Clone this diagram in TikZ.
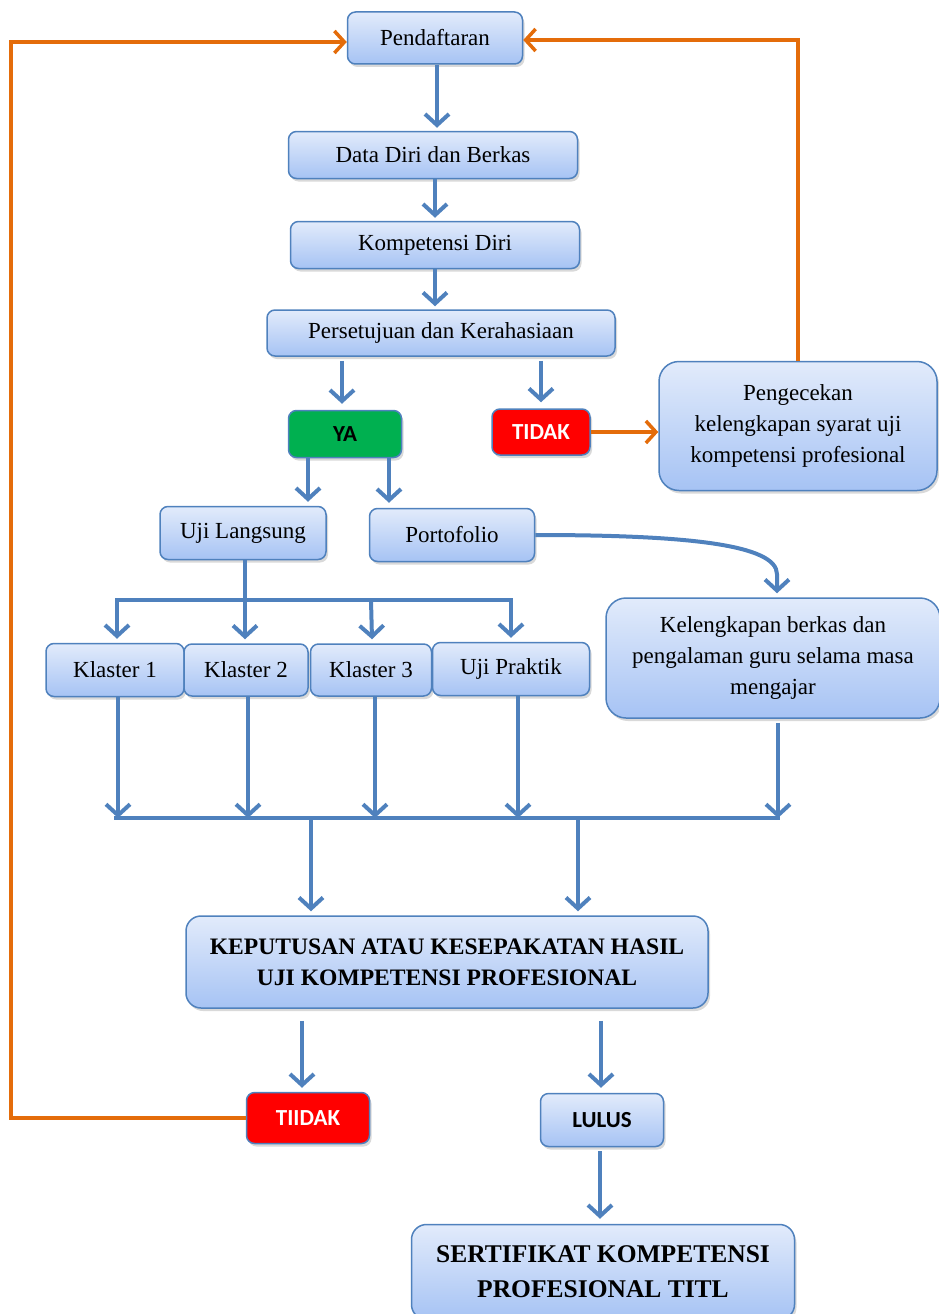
\documentclass[tikz,border=0pt]{standalone}
\usepackage{fontspec}
\setmainfont{Liberation Serif}
\newfontfamily\labfont{Carlito}
\usetikzlibrary{arrows.meta,shadows,calc}
\definecolor{bord}{HTML}{4F81BD}
\definecolor{btop}{HTML}{E2EBFB}
\definecolor{bbot}{HTML}{A6C3F4}
\definecolor{ablue}{HTML}{4F81BD}
\definecolor{aor}{HTML}{E46C0A}
\definecolor{gbox}{HTML}{00B050}
\begin{document}
\begin{tikzpicture}[x=1pt,y=-1pt,
 base/.style={draw=bord, line width=1.5pt, rounded corners=8pt, align=center, inner sep=0pt,
   drop shadow={shadow xshift=2pt, shadow yshift=-3pt, opacity=0.3}},
 box/.style={base, top color=btop, bottom color=bbot, font=\fontsize{23}{31}\selectfont},
 tag/.style={base, font=\labfont\bfseries\fontsize{23}{26}\selectfont},
 arr/.style={draw=ablue, line width=4pt, -{Straight Barb[length=11pt,width=24pt]}},
 lin/.style={draw=ablue, line width=4pt},
 oarr/.style={draw=aor, line width=3.5pt, -{Straight Barb[length=10pt,width=22pt]}},
]
\useasboundingbox (0,0) rectangle (939,1314);

% nodes
\node[box, minimum width=175pt, minimum height=52pt] (pend) at (435,38) {Pendaftaran};
\node[box, minimum width=289pt, minimum height=47pt] (data) at (433,155) {Data Diri dan Berkas};
\node[box, minimum width=289pt, minimum height=47pt] (komp) at (435,245) {Kompetensi Diri};
\node[box, minimum width=348pt, minimum height=46pt] (pers) at (441,333) {Persetujuan dan Kerahasiaan};
\node[tag, fill=gbox, text=black, minimum width=113pt, minimum height=47pt] (ya) at (345,434) {YA};
\node[tag, fill=red, text=white, minimum width=98pt, minimum height=46pt] (tidak) at (541,432) {TIDAK};
\node[box, rounded corners=20pt, minimum width=278pt, minimum height=129pt] (cek) at (798,426)
  {Pengecekan\\kelengkapan syarat uji\\kompetensi profesional};
\node[box, minimum width=166pt, minimum height=53pt] (uji) at (243,533) {Uji Langsung};
\node[box, minimum width=165pt, minimum height=53pt] (porto) at (452,535) {Portofolio};
\node[box, rounded corners=20pt, minimum width=334pt, minimum height=120pt] (kel) at (773,658)
  {Kelengkapan berkas dan\\pengalaman guru selama masa\\mengajar};
\node[box, minimum width=138pt, minimum height=53pt] (k1) at (115,670) {Klaster 1};
\node[box, minimum width=124pt, minimum height=52pt] (k2) at (246,670) {Klaster 2};
\node[box, minimum width=121pt, minimum height=52pt] (k3) at (371,670) {Klaster 3};
\node[box, minimum width=157pt, minimum height=53pt] (up) at (511,669) {Uji Praktik};
\node[box, rounded corners=15pt, minimum width=522pt, minimum height=92pt, font=\bfseries\fontsize{23.6}{31}\selectfont] (kep) at (447,962)
  {KEPUTUSAN ATAU KESEPAKATAN HASIL\\UJI KOMPETENSI PROFESIONAL};
\node[tag, fill=red, text=white, minimum width=123pt, minimum height=51pt] (tiidak) at (308,1118) {TIIDAK};
\node[tag, top color=btop, bottom color=bbot, text=black, minimum width=123pt, minimum height=53pt] (lulus) at (602,1120) {LULUS};
\node[box, rounded corners=15pt, minimum width=383pt, minimum height=95pt, font=\bfseries\fontsize{25.5}{35}\selectfont] (sert) at (603,1272)
  {SERTIFIKAT KOMPETENSI\\PROFESIONAL TITL};

% main chain
\draw[arr] ($(pend.south)+(2,0)$) -- ($(pend.south |- data.north)+(2,-3)$);
\draw[arr] ($(data.south)+(2,0)$) -- ($(data.south |- komp.north)+(2,-3)$);
\draw[arr] (komp.south) -- ($(komp.south |- pers.north)+(0,-3)$);
\draw[arr] ($(pers.south -| ya)+(-3,4)$) -- ($(ya.north)+(-3,-6)$);
\draw[arr] ($(pers.south -| tidak)+(0,4)$) -- ($(tidak.north)+(0,-6)$);
\draw[oarr] (tidak.east) -- (tidak.east -| cek.west);

% YA branches
\draw[arr] ($(ya.south)+(-37,0)$) -- ($(uji.north -| ya.south)+(-37,-4)$);
\draw[arr] ($(ya.south)+(44,0)$) -- ($(porto.north -| ya.south)+(44,-5)$);

% Uji Langsung to klasters
\coordinate (bus) at ($(uji.south)+(2,40)$);
\draw[arr] ($(uji.south)+(2,0)$) -- ($(uji.south |- k2.north)+(2,-4)$);
\draw[arr] (bus) -| ($(k1.north)+(2,-4)$);
\draw[arr] (bus) -| ($(up.north)+(0,-4)$);
\draw[arr] (bus -| k3) -- ($(k3.north)+(1,-4)$);

% Portofolio to Kelengkapan
\draw[arr] (porto.east) .. controls +(150,0) and +(0,-30) .. ($(kel.north)+(4,-23)$) -- ($(kel.north)+(4,-4)$);

% collection bar
\coordinate (cb) at (0,818);
\draw[lin] ($(k1.south |- cb)+(-1,0)$) -- ($(kel.south |- cb)+(7,0)$);
\draw[arr] ($(k1.south)+(3,0)$) -- ($(k1.south |- cb)+(3,0)$);
\draw[arr] ($(k2.south)+(2,0)$) -- ($(k2.south |- cb)+(2,0)$);
\draw[arr] ($(k3.south)+(4,0)$) -- ($(k3.south |- cb)+(4,0)$);
\draw[arr] ($(up.south)+(7,0)$) -- ($(up.south |- cb)+(7,0)$);
\draw[arr] ($(kel.south)+(5,4)$) -- ($(kel.south |- cb)+(5,0)$);
\draw[arr] ($(cb -| kep.north)+(-136,0)$) -- ($(kep.north)+(-136,-4)$);
\draw[arr] ($(cb -| kep.north)+(131,0)$) -- ($(kep.north)+(131,-4)$);

% decision
\draw[arr] ($(kep.south -| tiidak)+(-6,12)$) -- ($(tiidak.north)+(-6,-4)$);
\draw[arr] ($(kep.south -| lulus)+(-1,12)$) -- ($(lulus.north)+(-1,-5)$);
\draw[arr] ($(lulus.south)+(-2,4)$) -- ($(sert.north)+(-3,-5)$);

% orange feedback
\draw[oarr] (tiidak.west) -- ++(-235,0) |- ($(pend.west)+(0,4)$);
\draw[oarr] (cek.north) |- ($(pend.east)+(0,2)$);
\end{tikzpicture}
\end{document}
